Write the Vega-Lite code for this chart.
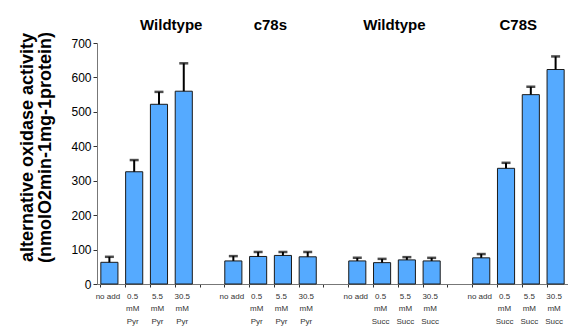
{
  "$schema": "https://vega.github.io/schema/vega-lite/v6.json",
  "width": 471,
  "height": 241,
  "autosize": {"type": "none"},
  "padding": {"left": 97, "top": 43, "right": 0, "bottom": 42},
  "config": {
    "view": {"stroke": null},
    "font": "Liberation Sans",
    "axisY": {
      "values": [0, 100, 200, 300, 400, 500, 600, 700],
      "labelFontSize": 12,
      "labelColor": "#000000",
      "labelPadding": 2,
      "tickSize": 4,
      "tickColor": "#333333",
      "domainColor": "#777777",
      "grid": false,
      "titleFontSize": 18,
      "titleFontWeight": "bold",
      "titleColor": "#000000",
      "titleLineHeight": 18,
      "titlePadding": 16,
      "titleY": 104
    }
  },
  "datasets": {
    "bars": [
      {"slot": "01|no add", "value": 63, "upper": 79},
      {"slot": "02|0.5_mM_Pyr", "value": 326, "upper": 360},
      {"slot": "03|5.5_mM_Pyr", "value": 522, "upper": 558},
      {"slot": "04|30.5_mM_Pyr", "value": 560, "upper": 641},
      {"slot": "06|no add", "value": 67, "upper": 81},
      {"slot": "07|0.5_mM_Pyr", "value": 80, "upper": 93},
      {"slot": "08|5.5_mM_Pyr", "value": 83, "upper": 93},
      {"slot": "09|30.5_mM_Pyr", "value": 79, "upper": 93},
      {"slot": "11|no add", "value": 67, "upper": 76},
      {"slot": "12|0.5_mM_Succ", "value": 62, "upper": 73},
      {"slot": "13|5.5_mM_Succ", "value": 70, "upper": 78},
      {"slot": "14|30.5_mM_Succ", "value": 67, "upper": 76},
      {"slot": "16|no add", "value": 76, "upper": 87},
      {"slot": "17|0.5_mM_Succ", "value": 336, "upper": 352},
      {"slot": "18|5.5_mM_Succ", "value": 550, "upper": 573},
      {"slot": "19|30.5_mM_Succ", "value": 623, "upper": 661}
    ],
    "titles": [
      {"slot": "04|30.5_mM_Pyr", "name": "Wildtype"},
      {"slot": "08|5.5_mM_Pyr", "name": "c78s"},
      {"slot": "13|5.5_mM_Succ", "name": "Wildtype"},
      {"slot": "18|5.5_mM_Succ", "name": "C78S"}
    ]
  },
  "layer": [
    {
      "data": {"name": "bars"},
      "mark": {"type": "bar", "fill": "#55aaff", "stroke": "#1a1a1a", "strokeWidth": 1},
      "encoding": {
        "x": {
          "field": "slot",
          "type": "nominal",
          "scale": {
            "domain": ["01|no add", "02|0.5_mM_Pyr", "03|5.5_mM_Pyr", "04|30.5_mM_Pyr", "05|",
                       "06|no add", "07|0.5_mM_Pyr", "08|5.5_mM_Pyr", "09|30.5_mM_Pyr", "10|",
                       "11|no add", "12|0.5_mM_Succ", "13|5.5_mM_Succ", "14|30.5_mM_Succ", "15|",
                       "16|no add", "17|0.5_mM_Succ", "18|5.5_mM_Succ", "19|30.5_mM_Succ"],
            "paddingInner": 0.31,
            "paddingOuter": 0.155
          },
          "axis": {
            "title": null,
            "labelAngle": 0,
            "labelExpr": "split(slice(datum.value, 3), '_')",
            "labelFontSize": 8,
            "labelColor": "#333333",
            "labelLineHeight": 12.5,
            "labelPadding": 5,
            "labelAlign": "center",
            "labelBaseline": "top",
            "labelOffset": -1.5,
            "bandPosition": 0,
            "domainColor": "#777777",
            "tickColor": "#333333",
            "tickSize": 3,
            "labelFont": "Liberation Sans"
          }
        },
        "y": {
          "field": "value",
          "type": "quantitative",
          "scale": {"domain": [0, 700], "nice": false},
          "axis": {
            "title": ["alternative oxidase activity", "(nmolO2min-1mg-1protein)"],
            "values": [0, 100, 200, 300, 400, 500, 600, 700]
          }
        }
      }
    },
    {
      "data": {"name": "bars"},
      "mark": {"type": "rule", "color": "#000000", "strokeWidth": 2},
      "encoding": {
        "x": {"field": "slot", "type": "nominal"},
        "y": {"field": "value", "type": "quantitative", "axis": {"values": [0, 100, 200, 300, 400, 500, 600, 700]}},
        "y2": {"field": "upper"}
      }
    },
    {
      "data": {"name": "bars"},
      "mark": {"type": "tick", "color": "#000000", "size": 9, "thickness": 2.5, "orient": "horizontal"},
      "encoding": {
        "x": {"field": "slot", "type": "nominal"},
        "y": {"field": "upper", "type": "quantitative", "axis": {"values": [0, 100, 200, 300, 400, 500, 600, 700]}}
      }
    },
    {
      "data": {"name": "titles"},
      "mark": {"type": "text", "fontSize": 15, "fontWeight": "bold", "color": "#000000", "align": "center", "baseline": "middle", "dx": -4},
      "encoding": {
        "x": {"field": "slot", "type": "nominal", "bandPosition": 0},
        "y": {"datum": 752, "type": "quantitative", "axis": {"values": [0, 100, 200, 300, 400, 500, 600, 700]}},
        "text": {"field": "name"}
      }
    }
  ]
}
